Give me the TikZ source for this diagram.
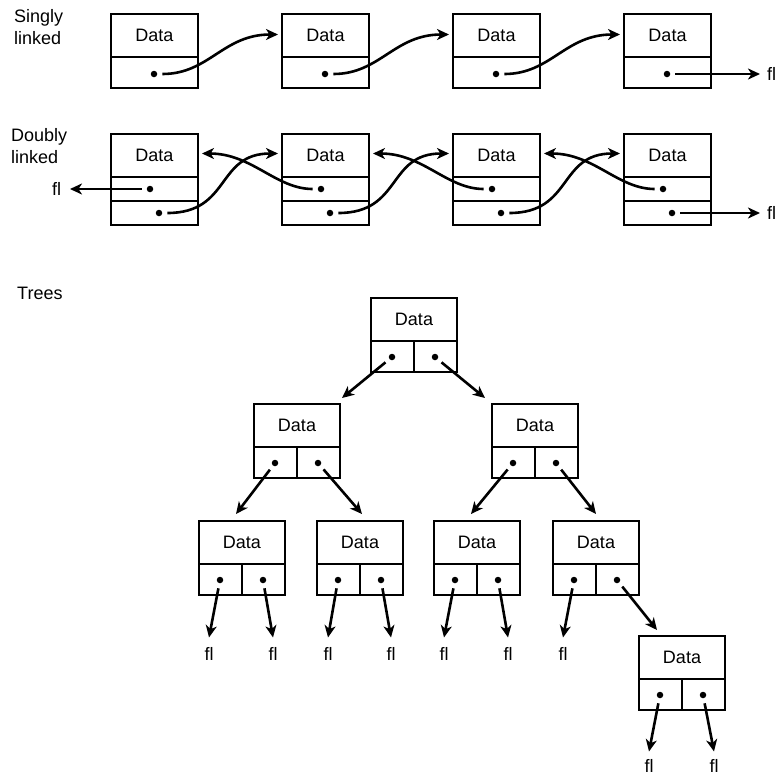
\documentclass[tikz,border=0pt]{standalone}
\usepackage{fontspec}
\setmainfont{Liberation Sans}
\usetikzlibrary{arrows.meta}
\newcommand\treebox[3]{%
  \node[cell, minimum width=86pt, minimum height=43pt] (#1) at (#2+43, #3+21.5) {Data};
  \node[cell, minimum width=43pt, minimum height=31pt] (#1l) at (#2+21.5, #3+58.5) {};
  \node[cell, minimum width=43pt, minimum height=31pt] (#1r) at (#2+64.5, #3+58.5) {};
  \node[dot] (#1ld) at (#2+21, #3+59) {};
  \node[dot] (#1rd) at (#2+64, #3+59) {};
}
\begin{document}
\begin{tikzpicture}[x=1pt,y=-1pt,
  every node/.style={font=\fontsize{18}{22}\selectfont},
  cell/.style={draw, line width=2.9pt, inner sep=0pt, outer sep=0pt, minimum width=87pt},
  dot/.style={circle, fill, inner sep=0pt, minimum size=6.5pt},
  ptr/.style={line width=2.6pt, -{Stealth[length=12pt,width=11pt,inset=3.5pt]}, shorten <=5pt},
  fl/.style={inner sep=0pt, outer sep=0pt},
  lbl/.style={align=left, anchor=west, inner sep=0pt}]
\useasboundingbox (0,0) rectangle (782,777);

% labels
\node[lbl] (lsingly) at (14,27) {Singly\\linked};
\node[lbl] (ldoubly) at (11,146.5) {Doubly\\linked};
\node[lbl] (ltrees) at (17,293) {Trees};

% singly linked
\foreach \i/\c in {1/154.5, 2/325.5, 3/496.5, 4/667.5}{
  \node[cell, minimum height=43pt] (s\i) at (\c,35.5) {Data};
  \node[cell, minimum height=31pt] (sp\i) at (\c,72.5) {};
  \node[dot] (sd\i) at (\c-0.5,74) {};
}
\foreach \i/\j in {1/2, 2/3, 3/4}{
  \draw[ptr] (sd\i) .. controls +(55,0) and +(-55,0) .. ([xshift=-4pt,yshift=1pt]s\j.west);
}
\node[fl, anchor=west] (sfr) at (767,74) {fl};
\draw[ptr] (sd4) -- ([xshift=-7pt]sfr.west);

% doubly linked
\foreach \i/\c in {1/154.5, 2/325.5, 3/496.5, 4/667.5}{
  \node[cell, minimum height=43pt] (d\i) at (\c,155.5) {Data};
  \node[cell, minimum height=24pt] (dp\i) at (\c,189) {};
  \node[cell, minimum height=24pt] (dn\i) at (\c,213) {};
  \node[dot] (dpd\i) at (\c-4.5,189) {};
  \node[dot] (dnd\i) at (\c+4.5,213) {};
}
\foreach \i/\j in {1/2, 2/3, 3/4}{
  \draw[ptr] (dnd\i) .. controls +(72,0) and +(-62,0) .. ([xshift=-4pt,yshift=2pt]d\j.west);
  \draw[ptr] (dpd\j) .. controls +(-45,0) and +(50,0) .. ([xshift=4pt,yshift=2pt]d\i.east);
}
\node[fl, anchor=east] (dfl) at (61,189) {fl};
\draw[ptr] (dpd1) -- ([xshift=9pt]dfl.east);
\node[fl, anchor=west] (dfr) at (767,213) {fl};
\draw[ptr] (dnd4) -- ([xshift=-7pt]dfr.west);

% trees
\treebox{t}{371}{298}
\treebox{tL}{254}{404}
\treebox{tR}{492}{404}
\treebox{ta}{199}{521}
\treebox{tb}{317}{521}
\treebox{tc}{434}{521}
\treebox{td}{553}{521}
\treebox{te}{639}{636}

\draw[ptr] (tld) -- ([xshift=2pt,yshift=6pt]tL.north east);
\draw[ptr] (trd) -- ([xshift=-7pt,yshift=6pt]tR.north west);
\draw[ptr] (tLld) -- ([xshift=37pt,yshift=7pt]ta.north west);
\draw[ptr] (tLrd) -- ([xshift=45pt,yshift=7pt]tb.north west);
\draw[ptr] (tRld) -- ([xshift=37pt,yshift=7pt]tc.north west);
\draw[ptr] (tRrd) -- ([xshift=43pt,yshift=7pt]td.north west);
\draw[ptr] (tdrd) -- ([xshift=18pt,yshift=6pt]te.north west);

\node[fl] (fa1) at (209,654) {fl};
\node[fl] (fa2) at (273,654) {fl};
\node[fl] (fb1) at (328,654) {fl};
\node[fl] (fb2) at (391,654) {fl};
\node[fl] (fc1) at (444,654) {fl};
\node[fl] (fc2) at (508,654) {fl};
\node[fl] (fd1) at (563,654) {fl};
\node[fl] (fe1) at (649,766) {fl};
\node[fl] (fe2) at (714,766) {fl};

\draw[ptr] (tald) -- ([yshift=10pt]fa1.north);
\draw[ptr] (tard) -- ([yshift=10pt]fa2.north);
\draw[ptr] (tbld) -- ([yshift=10pt]fb1.north);
\draw[ptr] (tbrd) -- ([yshift=10pt]fb2.north);
\draw[ptr] (tcld) -- ([yshift=10pt]fc1.north);
\draw[ptr] (tcrd) -- ([yshift=10pt]fc2.north);
\draw[ptr] (tdld) -- ([yshift=10pt]fd1.north);
\draw[ptr] (teld) -- ([yshift=8pt]fe1.north);
\draw[ptr] (terd) -- ([yshift=8pt]fe2.north);
\end{tikzpicture}
\end{document}
